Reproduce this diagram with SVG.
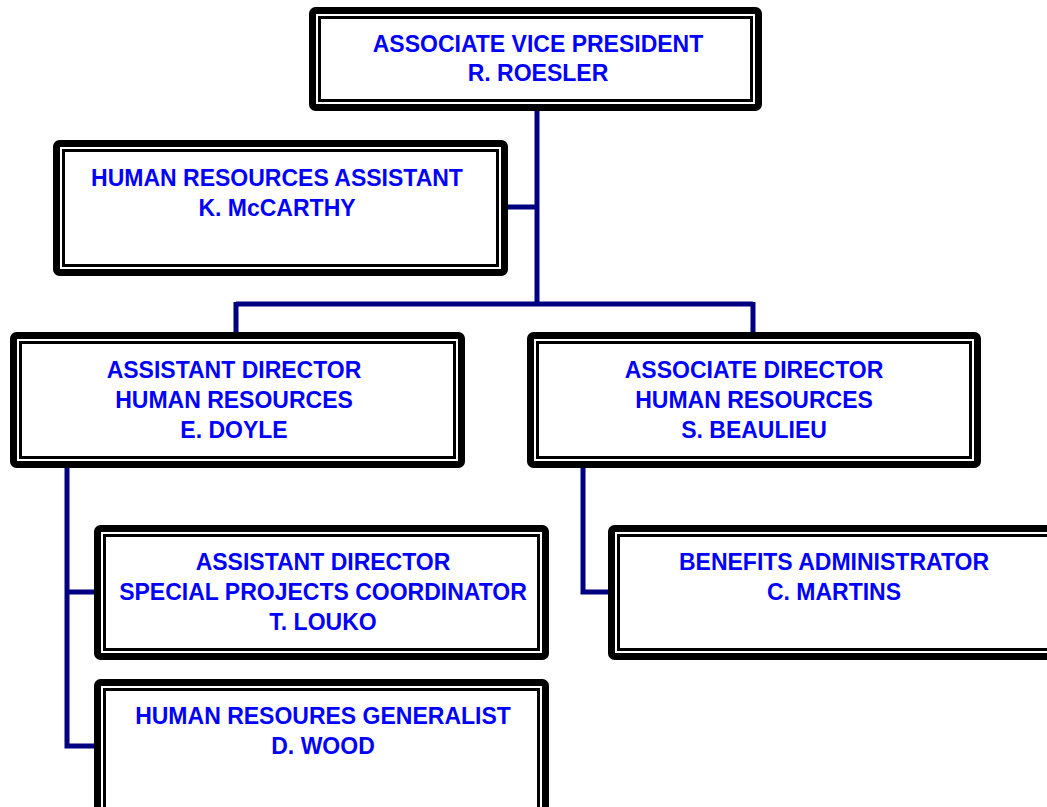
<svg xmlns="http://www.w3.org/2000/svg" width="1047" height="807" viewBox="0 0 1047 807">
<style>
.o{fill:#fff;stroke:#000;stroke-width:7}
.i{fill:none;stroke:#000;stroke-width:3}
.c{fill:none;stroke:#000080;stroke-width:5}
text{font-family:"Liberation Sans",Arial,sans-serif;font-weight:bold;font-size:23px;fill:#0000ff;text-anchor:middle}
</style>
<rect width="1047" height="807" fill="#fff"/>
<g id="connectors">
<path class="c" d="M537 108V304M508 207H537M236 304H753M236 302V334M753 302V334"/>
<path class="c" d="M67 466V746H96M67 592H96"/>
<path class="c" d="M583 466V592H610"/>
</g>
<g id="avp">
<rect class="o" x="312.5" y="10.5" width="446" height="97" rx="3"/>
<rect class="i" x="319.5" y="17.5" width="432" height="83"/>
<text x="538" y="52">ASSOCIATE VICE PRESIDENT</text>
<text x="538" y="81">R. ROESLER</text>
</g>
<g id="hr-assistant">
<rect class="o" x="56.5" y="143.5" width="448" height="129" rx="3"/>
<rect class="i" x="63.5" y="150.5" width="434" height="115"/>
<text x="277" y="186">HUMAN RESOURCES ASSISTANT</text>
<text x="277" y="216">K. McCARTHY</text>
</g>
<g id="asst-director">
<rect class="o" x="13.5" y="335.5" width="448" height="129" rx="3"/>
<rect class="i" x="20.5" y="342.5" width="434" height="115"/>
<text x="234" y="378">ASSISTANT DIRECTOR</text>
<text x="234" y="408">HUMAN RESOURCES</text>
<text x="234" y="438">E. DOYLE</text>
</g>
<g id="assoc-director">
<rect class="o" x="530.5" y="335.5" width="447" height="129" rx="3"/>
<rect class="i" x="537.5" y="342.5" width="433" height="115"/>
<text x="754" y="378">ASSOCIATE DIRECTOR</text>
<text x="754" y="408">HUMAN RESOURCES</text>
<text x="754" y="438">S. BEAULIEU</text>
</g>
<g id="special-projects">
<rect class="o" x="97.5" y="528.5" width="448" height="128" rx="3"/>
<rect class="i" x="104.5" y="535.5" width="434" height="114"/>
<text x="323" y="570">ASSISTANT DIRECTOR</text>
<text x="323" y="600">SPECIAL PROJECTS COORDINATOR</text>
<text x="323" y="630">T. LOUKO</text>
</g>
<g id="generalist">
<rect class="o" x="97.5" y="682.5" width="448" height="150" rx="3"/>
<rect class="i" x="104.5" y="689.5" width="434" height="136"/>
<text x="323" y="724">HUMAN RESOURES GENERALIST</text>
<text x="323" y="754">D. WOOD</text>
</g>
<g id="benefits">
<rect class="o" x="611.5" y="528.5" width="445" height="128" rx="3"/>
<rect class="i" x="618.5" y="535.5" width="431" height="114"/>
<text x="834" y="570">BENEFITS ADMINISTRATOR</text>
<text x="834" y="600">C. MARTINS</text>
</g>
</svg>
